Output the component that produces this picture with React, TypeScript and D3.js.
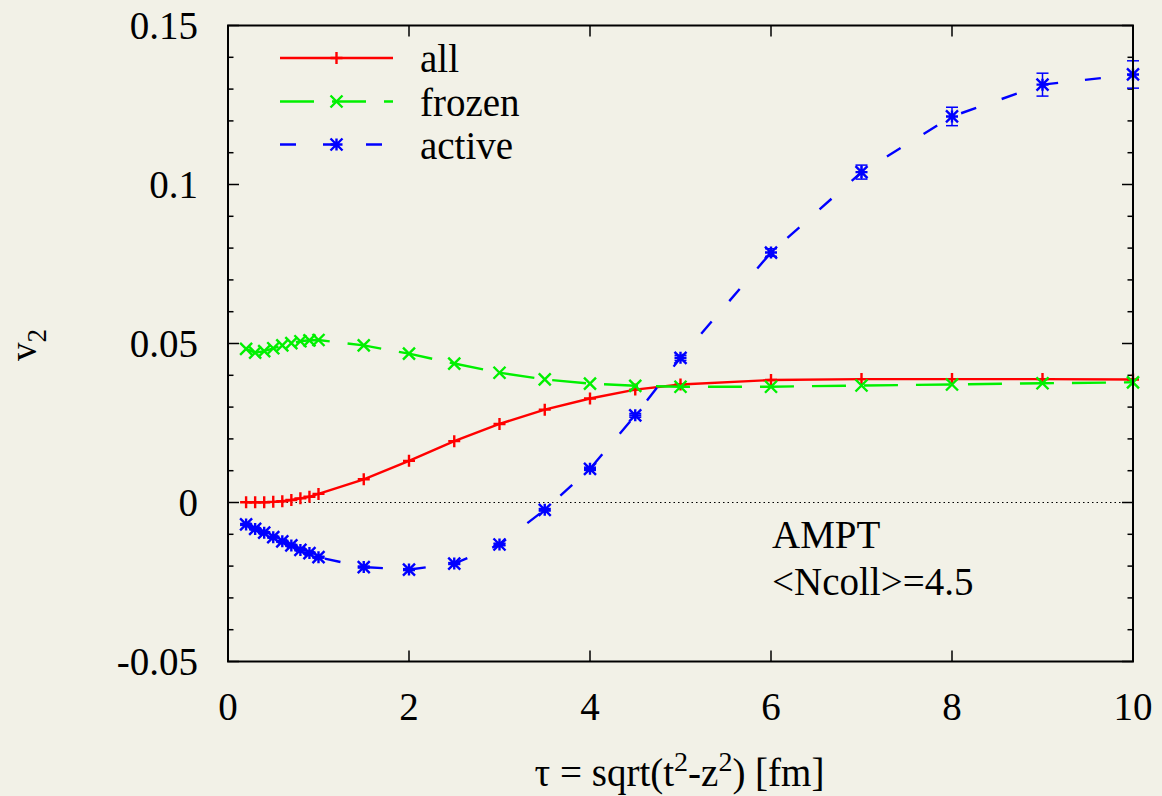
import React from "react";
import * as d3 from "d3";

// proper time steps [fm]
const tau = [0.2, 0.3, 0.4, 0.5, 0.6, 0.7, 0.8, 0.9, 1.0, 1.5, 2, 2.5, 3, 3.5, 4, 4.5, 5, 6, 7, 8, 9, 10];

// elliptic flow v2 of all partons
const v2All = [0.0001, 0.0001, 0.0001, 0.0002, 0.0004, 0.0008, 0.0013, 0.0018, 0.0027, 0.0073, 0.0131, 0.0193, 0.0247, 0.0292, 0.0327, 0.0355, 0.0371, 0.0385, 0.0388, 0.0388, 0.0388, 0.0387];

// v2 of frozen-out partons
const v2Frozen = [0.0483, 0.0471, 0.0476, 0.0485, 0.0494, 0.0501, 0.0507, 0.0510, 0.0511, 0.0494, 0.0468, 0.0437, 0.0408, 0.0387, 0.0374, 0.0367, 0.0364, 0.0364, 0.0368, 0.0371, 0.0375, 0.0378];

// v2 of still-active partons and its statistical error
const v2Active = [-0.0069, -0.0083, -0.0095, -0.0109, -0.0122, -0.0135, -0.0149, -0.0159, -0.0172, -0.0203, -0.0211, -0.0192, -0.0132, -0.0023, 0.0106, 0.0274, 0.0455, 0.0786, 0.1039, 0.1214, 0.1314, 0.1346];
const v2ActiveErr = [0.0003, 0.0003, 0.0003, 0.0003, 0.0003, 0.0003, 0.0003, 0.0003, 0.0003, 0.0003, 0.0003, 0.0003, 0.0004, 0.0004, 0.0005, 0.0006, 0.0008, 0.0012, 0.0022, 0.0029, 0.0036, 0.0043];

const xTicks = [0, 2, 4, 6, 8, 10];
const yMajorTicks = [-0.05, 0, 0.05, 0.1, 0.15];
const yTickLabels = ["-0.05", "0", "0.05", "0.1", "0.15"];
const xTickLabels = ["0", "2", "4", "6", "8", "10"];

const W = 1162;
const H = 796;
const BG = "#f2f1e7";
const FONT = "\"Liberation Serif\", \"Times New Roman\", \"DejaVu Serif\", \"Liberation Sans\", sans-serif";
const FS = 39;

const left = 228;
const right = 1133;
const top = 25.5;
const bottom = 661.5;

type MarkerKind = "plus" | "cross" | "star";

function Marker({ kind, x, y, color }: { kind: MarkerKind; x: number; y: number; color: string }) {
  const s = 6;
  const plus = `M${x - s},${y}H${x + s}M${x},${y - s}V${y + s}`;
  const cross = `M${x - s},${y - s}L${x + s},${y + s}M${x - s},${y + s}L${x + s},${y - s}`;
  const d = kind === "plus" ? plus : kind === "cross" ? cross : plus + cross;
  return <path d={d} stroke={color} strokeWidth={2.4} fill="none" />;
}

export default function App() {
  const x = d3.scaleLinear().domain([0, 10]).range([left, right]);
  const y = d3.scaleLinear().domain([-0.05, 0.15]).range([bottom, top]);

  const line = d3
    .line<[number, number]>()
    .x((d) => x(d[0]))
    .y((d) => y(d[1]));

  const pts = (vals: number[]) => tau.map((t, i) => [t, vals[i]] as [number, number]);

  const series = [
    { name: "all", vals: v2All, color: "#ff0000", dash: undefined as string | undefined, marker: "plus" as MarkerKind },
    { name: "frozen", vals: v2Frozen, color: "#00f000", dash: "34 18", marker: "cross" as MarkerKind },
    { name: "active", vals: v2Active, color: "#0000ff", dash: "16 27", marker: "star" as MarkerKind },
  ];

  const yMinor = d3.range(-5, 16).map((k) => k / 100);

  const legendX0 = 280;
  const legendX1 = 393;
  const legendYs = [58, 101.5, 144.5];

  const textStyle = { fontFamily: FONT };

  return (
    <svg
      width={W}
      height={H}
      style={{ position: "absolute", left: 0, top: 0, fontFamily: FONT }}
    >
      <rect x={0} y={0} width={W} height={H} fill={BG} />

      {/* zero line */}
      <line x1={left} x2={right} y1={y(0)} y2={y(0)} stroke="#000" strokeWidth={1} strokeDasharray="1.5 3" />

      {/* y ticks, both sides */}
      {yMinor.map((v) => {
        const major = Math.abs(Math.round(v * 100) % 5) === 0;
        const len = major ? 11 : 5.5;
        return (
          <g key={v}>
            <line x1={left} x2={left + len} y1={y(v)} y2={y(v)} stroke="#000" strokeWidth={1.5} />
            <line x1={right} x2={right - len} y1={y(v)} y2={y(v)} stroke="#000" strokeWidth={1.5} />
          </g>
        );
      })}

      {/* x ticks, both sides */}
      {xTicks.map((v) => (
        <g key={v}>
          <line x1={x(v)} x2={x(v)} y1={bottom} y2={bottom - 11} stroke="#000" strokeWidth={1.5} />
          <line x1={x(v)} x2={x(v)} y1={top} y2={top + 11} stroke="#000" strokeWidth={1.5} />
        </g>
      ))}

      {/* tick labels */}
      {yMajorTicks.map((v, i) => (
        <text key={v} x={198} y={y(v) + 13} textAnchor="end" fontSize={FS} fill="#000" style={textStyle}>
          {yTickLabels[i]}
        </text>
      ))}
      {xTicks.map((v, i) => (
        <text key={v} x={x(v)} y={720} textAnchor="middle" fontSize={FS} fill="#000" style={textStyle}>
          {xTickLabels[i]}
        </text>
      ))}

      {/* axis titles */}
      <text x={(left + right) / 2 - 1} y={786} textAnchor="middle" fontSize={FS} fill="#000" style={textStyle}>
        <tspan>τ = sqrt(t</tspan>
        <tspan dy={-15} fontSize={28}>2</tspan>
        <tspan dy={15}>-z</tspan>
        <tspan dy={-15} fontSize={28}>2</tspan>
        <tspan dy={15}>) [fm]</tspan>
      </text>
      <text transform="translate(36,345) rotate(-90)" textAnchor="middle" fontSize={37} fill="#000" style={textStyle}>
        <tspan>v</tspan>
        <tspan dy={10} fontSize={27}>2</tspan>
      </text>

      {/* annotation */}
      <text x={772} y={548} fontSize={FS} fill="#000" style={textStyle}>AMPT</text>
      <text x={772} y={595} fontSize={FS} fill="#000" style={textStyle}>&lt;Ncoll&gt;=4.5</text>

      {/* error bars for active partons */}
      {tau.map((t, i) => {
        const e = v2ActiveErr[i];
        const cx = x(t);
        const y0 = y(v2Active[i] - e);
        const y1 = y(v2Active[i] + e);
        return (
          <g key={t} stroke="#0000ff" strokeWidth={1.5}>
            <line x1={cx} x2={cx} y1={y0} y2={y1} />
            <line x1={cx - 6} x2={cx + 6} y1={y0} y2={y0} />
            <line x1={cx - 6} x2={cx + 6} y1={y1} y2={y1} />
          </g>
        );
      })}

      {/* curves */}
      {series.map((s) => (
        <g key={s.name}>
          <path
            d={line(pts(s.vals)) ?? ""}
            fill="none"
            stroke={s.color}
            strokeWidth={2.4}
            strokeDasharray={s.dash}
          />
          {tau.map((t, i) => (
            <Marker key={t} kind={s.marker} x={x(t)} y={y(s.vals[i])} color={s.color} />
          ))}
        </g>
      ))}

      {/* legend */}
      {series.map((s, i) => (
        <g key={s.name}>
          <line
            x1={legendX0}
            x2={legendX1}
            y1={legendYs[i]}
            y2={legendYs[i]}
            stroke={s.color}
            strokeWidth={2.4}
            strokeDasharray={s.dash}
          />
          <Marker kind={s.marker} x={(legendX0 + legendX1) / 2} y={legendYs[i]} color={s.color} />
          <text x={420} y={legendYs[i] + 14} fontSize={FS} fill="#000" style={textStyle}>
            {s.name}
          </text>
        </g>
      ))}

      {/* frame */}
      <rect x={left} y={top} width={right - left} height={bottom - top} fill="none" stroke="#000" strokeWidth={2} />
    </svg>
  );
}
